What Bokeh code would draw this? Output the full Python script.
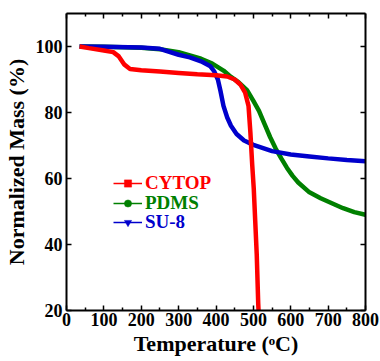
from bokeh.plotting import figure
from bokeh.models import Range1d, LinearAxis, FixedTicker, Legend, LegendItem
from bokeh.embed import file_html
from bokeh.resources import INLINE

# ---- data ----
temp_cytop = [35, 60, 100, 125, 140, 155, 170, 200, 250, 300, 350, 400, 430, 450,
              465, 478, 487, 492, 497, 501, 505, 509, 513, 516]
mass_cytop = [100, 99.5, 98.8, 98.3, 97.0, 94.5, 93.2, 92.8, 92.4, 92.0, 91.6, 91.3, 90.9, 90.0,
              88.5, 86.0, 82.0, 74.0, 64.0, 57.0, 47.0, 37.0, 22.0, 15.0]

temp_pdms = [35, 100, 200, 250, 300, 330, 360, 390, 420, 440, 460, 483, 500, 515, 530, 545,
             560, 575, 590, 605, 620, 650, 680, 710, 740, 770, 800]
mass_pdms = [100, 99.9, 99.6, 99.2, 98.3, 97.3, 96.3, 94.8, 92.7, 90.8, 89.2, 86.8, 83.5, 80.5, 76.5, 72.5,
             69.0, 66.0, 63.2, 60.8, 58.8, 55.8, 54.0, 52.5, 51.0, 49.8, 49.0]

temp_su8 = [35, 100, 200, 250, 300, 330, 360, 385, 395, 405, 412, 420, 430, 440, 455, 475,
            500, 550, 600, 650, 700, 750, 800]
mass_su8 = [100, 99.9, 99.7, 99.3, 97.5, 96.7, 95.5, 94.0, 92.5, 90.0, 86.5, 82.0, 78.5, 76.0, 73.5, 71.5,
            70.2, 68.3, 67.3, 66.7, 66.1, 65.6, 65.2]

series_names = ["CYTOP", "PDMS", "SU-8"]
series_colors = ["#ff0000", "#008000", "#0000cc"]
series_markers = ["square", "circle", "inverted_triangle"]
series_marker_sizes = [4.5, 3.5, 6]

x_ticks = [0, 100, 200, 300, 400, 500, 600, 700, 800]
x_minor = [50, 150, 250, 350, 450, 550, 650, 750]
y_ticks = [20, 40, 60, 80, 100]

FONT = "Liberation Serif"

p = figure(width=380, height=361, output_backend="svg", toolbar_location=None,
           x_range=Range1d(0, 800), y_range=Range1d(20, 110),
           min_border_left=66, min_border_right=15, min_border_top=13, min_border_bottom=51)
p.grid.visible = False
p.outline_line_color = None
p.background_fill_color = "white"

top_axis = LinearAxis()
right_axis = LinearAxis()
p.add_layout(top_axis, "above")
p.add_layout(right_axis, "right")

xb = p.below[0]
yl = p.left[0]

for ax in [xb, top_axis]:
    ax.ticker = FixedTicker(ticks=x_ticks, minor_ticks=x_minor)
for ax in [yl, right_axis]:
    ax.ticker = FixedTicker(ticks=y_ticks, minor_ticks=[])

for ax in [xb, yl, top_axis, right_axis]:
    ax.axis_line_width = 2
    ax.axis_line_color = "black"
    ax.major_tick_in = 5
    ax.major_tick_out = 0
    ax.minor_tick_in = 3
    ax.minor_tick_out = 0
    ax.major_tick_line_width = 1.5
    ax.minor_tick_line_width = 1.5
    ax.major_label_text_font = FONT
    ax.major_label_text_font_style = "bold"
    ax.major_label_text_font_size = "18px"
    ax.major_label_text_color = "black"

for ax in [top_axis, right_axis]:
    ax.major_label_text_font_size = "0px"
    ax.major_label_text_color = None
    ax.major_label_standoff = 0

xb.major_label_standoff = 2
yl.major_label_standoff = 4

xb.axis_label = "Temperature (\u1d52C)"
yl.axis_label = "Normalized Mass (%)"
for ax in [xb, yl]:
    ax.axis_label_text_font = FONT
    ax.axis_label_text_font_style = "bold"
    ax.axis_label_text_font_size = "22px"
    ax.axis_label_text_color = "black"
xb.axis_label_standoff = 2
yl.axis_label_standoff = 4

# curves
curve_data = {
    "CYTOP": (temp_cytop, mass_cytop),
    "PDMS": (temp_pdms, mass_pdms),
    "SU-8": (temp_su8, mass_su8),
}
for name in ["PDMS", "SU-8", "CYTOP"]:
    col = series_colors[series_names.index(name)]
    tx, my = curve_data[name]
    p.line(tx, my, line_color=col, line_width=4.5)

# legends (one per series so each label keeps its own colour);
# the legend glyphs come from hidden thin-line + marker renderers of the same data
legend_y = [116, 96, 77]
for name, col, mk, ms, ly in zip(series_names, series_colors, series_markers,
                                 series_marker_sizes, legend_y):
    tx, my = curve_data[name]
    lr = p.line(tx, my, line_color=col, line_width=1.5, visible=False)
    sr = p.scatter(tx, my, marker=mk, size=ms, fill_color=col, line_color=col,
                   line_width=0.5, visible=False)
    leg = Legend(items=[LegendItem(label=name, renderers=[lr, sr])],
                 location=(47, ly), glyph_width=29, glyph_height=18, label_height=18,
                 label_standoff=3, padding=0, margin=0, spacing=0,
                 border_line_color=None, background_fill_alpha=0,
                 inactive_fill_alpha=0,
                 label_text_font=FONT, label_text_font_style="bold",
                 label_text_font_size="19px", label_text_color=col,
                 label_text_baseline="middle")
    p.add_layout(leg, "center")

open("out.html", "w").write(file_html(p, INLINE))
